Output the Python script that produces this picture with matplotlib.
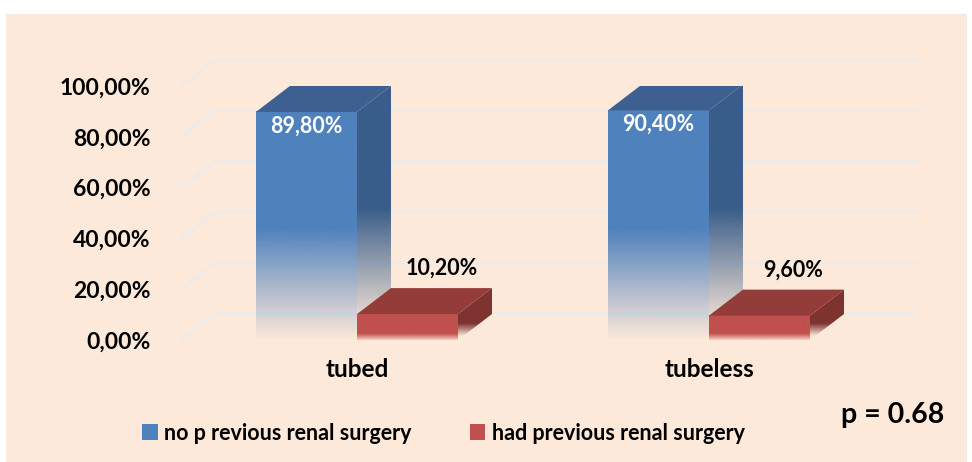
import numpy as np
import matplotlib
matplotlib.use('Agg')
import matplotlib.pyplot as plt
from matplotlib.patches import Polygon, Rectangle, Patch

plt.rcParams['font.family'] = ['Lato', 'DejaVu Sans']

categories = ['tubed', 'tubeless']
no_previous = [89.8, 90.4]
had_previous = [10.2, 9.6]
series_names = ['no p revious renal surgery', 'had previous renal surgery']
y_ticks = [0, 20, 40, 60, 80, 100]
p_text = 'p = 0.68'

BG = '#FDE9D9'
GRID = '#EDEBEA'
BLUE = dict(front='#4F81BD', side='#385D8A', top='#3D6090')
RED = dict(front='#C0504D', side='#7E3330', top='#943C39')

W = 101 / 352      # bar width in category units
DX = 34 / 352      # depth offset, x
DY = 26 / 2.54     # depth offset, y (percent units)


def pct(v):
    return ('%.2f%%' % v).replace('.', ',')


def gradient_img(color, alpha_fn, y0, y1, n=200):
    rgb = np.array(matplotlib.colors.to_rgb(color))
    ys = np.linspace(y0, y1, n)
    img = np.zeros((n, 2, 4))
    img[..., :3] = rgb
    img[..., 3] = alpha_fn(ys)[:, None]
    return img


def draw_bar(ax, x0, h, cols, fade_front, fade_side):
    # front face
    img = gradient_img(cols['front'], fade_front, 0, h)
    ax.imshow(img, extent=[x0, x0 + W, 0, h], origin='lower', aspect='auto',
              interpolation='bilinear', zorder=3)
    # side face
    side = Polygon([(x0 + W, 0), (x0 + W + DX, DY), (x0 + W + DX, h + DY), (x0 + W, h)],
                   closed=True, facecolor='none', edgecolor='none', zorder=3)
    ax.add_patch(side)
    img = gradient_img(cols['side'], fade_side, 0, h + DY)
    im = ax.imshow(img, extent=[x0 + W, x0 + W + DX, 0, h + DY], origin='lower', aspect='auto',
                   interpolation='bilinear', zorder=3)
    im.set_clip_path(side)
    # top face
    ax.add_patch(Polygon([(x0, h), (x0 + DX, h + DY), (x0 + W + DX, h + DY), (x0 + W, h)],
                         closed=True, facecolor=cols['top'], edgecolor='none', zorder=3))


fig = plt.figure(figsize=(9.72, 4.62), dpi=100)
fig.patch.set_facecolor('white')
fig.patches.append(Rectangle((6 / 972, 0), 961 / 972, 448 / 462, transform=fig.transFigure,
                             facecolor=BG, edgecolor='none', zorder=-10))

ax = fig.add_axes([181 / 972, 122 / 462, 704 / 972, 254 / 462])
ax.patch.set_visible(False)

# grid on the floor edge + back wall
for v in y_ticks:
    ax.plot([-0.5, -0.5 + DX, 1.5 + DX], [v, v + DY, v + DY], color=GRID, lw=2,
            solid_capstyle='butt', clip_on=False, zorder=1)

blue_front = lambda y: np.clip(0.03 + (y - 1) / 44.0, 0, 1)
blue_side = lambda y: np.clip((y - 4) / 48.0, 0.03, 1)
red_front = lambda y: np.clip(0.15 + y / 3.0, 0, 1)
red_side = lambda y: np.clip(0.1 + (y - 2) / 5.0, 0, 1)

for i, cat in enumerate(categories):
    draw_bar(ax, i - W, no_previous[i], BLUE, blue_front, blue_side)
    draw_bar(ax, i, had_previous[i], RED, red_front, red_side)
    ax.text(i - W / 2, no_previous[i] - 1.5, pct(no_previous[i]), ha='center', va='top',
            color='white', fontsize=15.5, fontweight='bold', zorder=5)
    ax.text(i + W / 2 + DX, had_previous[i] + DY + 3.5, pct(had_previous[i]), ha='center',
            va='bottom', color='black', fontsize=15.5, fontweight='bold', zorder=5)

ax.set_xlim(-0.5, 1.5)
ax.set_ylim(0, 100)
ax.set_yticks(y_ticks)
ax.set_yticklabels([pct(v) for v in y_ticks], fontsize=16.5, fontweight='bold')
ax.set_xticks(range(len(categories)))
ax.set_xticklabels(categories, fontsize=17.5, fontweight='bold')
ax.tick_params(length=0)
ax.tick_params(axis='y', pad=22)
ax.tick_params(axis='x', pad=13)
for s in ax.spines.values():
    s.set_visible(False)

handles = [Patch(facecolor=BLUE['front']), Patch(facecolor=RED['front'])]
fig.legend(handles, series_names, loc='center left', bbox_to_anchor=(123 / 972, 29 / 462),
           ncol=2, frameon=False, handlelength=0.72, handleheight=0.72,
           handletextpad=0.3, columnspacing=2.7, prop=dict(weight='bold', size=15.5))

fig.text(893 / 972, 47 / 462, p_text, ha='center', va='center', fontsize=20.5, fontweight='bold')

fig.savefig('out.png', dpi=100)
